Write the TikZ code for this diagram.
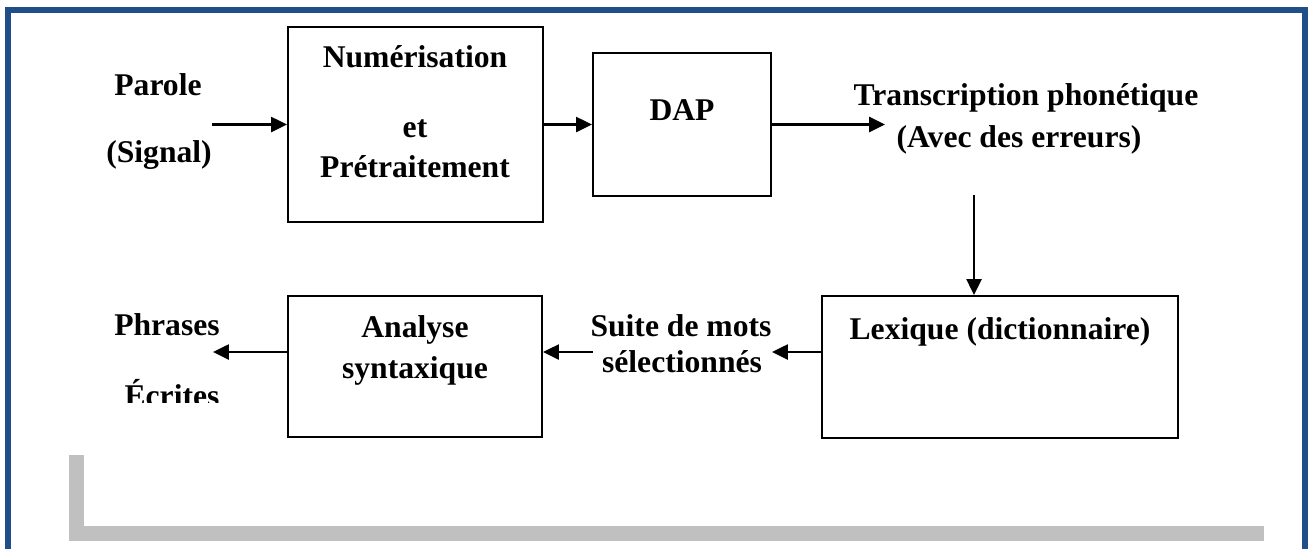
\documentclass[tikz,border=0pt]{standalone}
\usepackage{fontspec}
\setmainfont{Liberation Serif}
\usetikzlibrary{arrows.meta}
\definecolor{framebl}{HTML}{1F4E88}
\definecolor{shadegr}{HTML}{C0C0C0}
\begin{document}
\begin{tikzpicture}[
  x=0.02cm, y=-0.02cm,
  blk/.style={draw, line width=1.2pt, inner sep=0pt},
  txt/.style={anchor=base, inner sep=0pt, font=\fontsize{18}{22}\selectfont\bfseries},
  arr/.style={line width=1.3pt, -{Triangle[length=9pt, width=8.5pt]}}
]
\useasboundingbox (0,0) rectangle (1311,549);
\draw[framebl, line width=0.12cm] (8,549) -- (8,10) -- (1305,10) -- (1305,549);
\fill[shadegr] (69,455) rectangle (84,541);
\fill[shadegr] (69,526) rectangle (1264,541);

\node[blk, minimum width=5.1cm, minimum height=3.9cm] (num) at (415.5,124.5) {};
\node[blk, minimum width=3.56cm, minimum height=2.86cm] (dap) at (682,124.5) {};
\node[blk, minimum width=7.12cm, minimum height=2.84cm] (lex) at (1000,367) {};
\node[blk, minimum width=5.08cm, minimum height=2.82cm] (syn) at (415,366.5) {};

\node[txt] (parole) at (158,95) {Parole};
\node[txt] (signal) at (159,162) {(Signal)};
\node[txt] (numt) at (415,67) {Numérisation};
\node[txt] (et) at (415,137) {et};
\node[txt] (pret) at (415,177) {Prétraitement};
\node[txt] (dapt) at (682,120) {DAP};
\node[txt] (trans) at (1026,105) {Transcription phonétique};
\node[txt] (err) at (1019,147) {(Avec des erreurs)};
\node[txt] (lext) at (1000,339) {Lexique (dictionnaire)};
\node[txt] (suite) at (681,336) {Suite de mots};
\node[txt] (sel) at (682,372) {sélectionnés};
\node[txt] (ana) at (415,337) {Analyse};
\node[txt] (synt) at (415,378) {syntaxique};
\node[txt] (phr) at (167,335) {Phrases};
\begin{scope}
  \clip (100,370) rectangle (240,402);
  \node[txt] (ecr) at (172,406) {Écrites};
\end{scope}

\coordinate (in) at (212,124.5);
\coordinate (tr) at (885,124.5);
\coordinate (down) at (974,195);
\coordinate (m1) at (772,352);
\coordinate (m2) at (593,352);
\coordinate (m3) at (213,352);

\draw[arr] (in) -- (in -| num.west);
\draw[arr] (num.east) -- (dap.west);
\draw[arr] (dap.east) -- (tr);
\draw[arr] (down) -- (down |- lex.north);
\draw[arr] (m1 -| lex.west) -- (m1);
\draw[arr] (m2) -- (m2 -| syn.east);
\draw[arr] (m3 -| syn.west) -- (m3);
\end{tikzpicture}
\end{document}
